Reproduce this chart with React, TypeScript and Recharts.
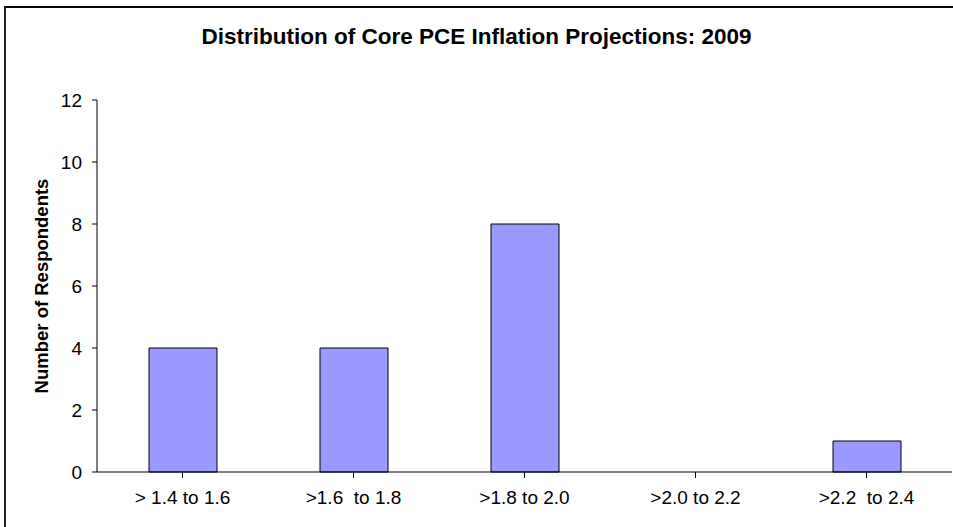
import { BarChart, Bar, XAxis, YAxis } from "recharts";

const categories = ["> 1.4 to 1.6", ">1.6  to 1.8", ">1.8 to 2.0", ">2.0 to 2.2", ">2.2  to 2.4"];
const respondents = [4, 4, 8, 0, 1];
const yTicks = [0, 2, 4, 6, 8, 10, 12];

const data = categories.map((range, i) => ({ range, count: respondents[i] }));

const FONT = "'Liberation Sans', Arial, sans-serif";

// keeps the double spaces in the category names
function RangeTick(props: any) {
  const { x, y, payload } = props;
  return (
    <text
      x={x}
      y={y}
      dy="0.71em"
      textAnchor="middle"
      fontSize={19}
      fill="#000"
      style={{ whiteSpace: "pre" }}
    >
      {payload.value}
    </text>
  );
}

export default function App() {
  return (
    <div
      style={{
        position: "absolute",
        left: 0,
        top: 0,
        width: 953,
        height: 527,
        overflow: "hidden",
        background: "#fff",
        fontFamily: FONT,
      }}
    >
      {/* outer chart frame, cropped on the right and bottom */}
      <div
        style={{
          position: "absolute",
          left: 4,
          top: 6,
          width: 1000,
          height: 600,
          borderTop: "2px solid #000",
          borderLeft: "2px solid #222",
        }}
      />
      <div
        style={{
          position: "absolute",
          left: 0,
          top: 26,
          width: 953,
          textAlign: "center",
          fontSize: 22.5,
          lineHeight: "22px",
          fontWeight: "bold",
          color: "#000",
        }}
      >
        Distribution of Core PCE Inflation Projections: 2009
      </div>
      <div style={{ position: "absolute", left: 0, top: 0 }}>
        <BarChart
          width={953}
          height={527}
          data={data}
          margin={{ top: 100, right: 1, bottom: 15, left: 37 }}
          barCategoryGap="30%"
          style={{ fontFamily: FONT }}
        >
          <XAxis
            xAxisId="top"
            orientation="top"
            dataKey="range"
            height={0}
            tick={false}
            tickLine={false}
            axisLine={{ stroke: "#808080" }}
          />
          <YAxis
            yAxisId="right"
            orientation="right"
            width={0}
            tick={false}
            tickLine={false}
            axisLine={{ stroke: "#808080" }}
          />
          <XAxis
            dataKey="range"
            height={40}
            axisLine={{ stroke: "#000" }}
            tickLine={{ stroke: "#000" }}
            tickSize={6}
            tickMargin={13}
            interval={0}
            tick={<RangeTick />}
          />
          <YAxis
            width={60}
            domain={[0, 12]}
            ticks={yTicks}
            axisLine={{ stroke: "#000" }}
            tickLine={{ stroke: "#000" }}
            tickSize={5}
            tickMargin={10}
            tick={{ fontSize: 19, fill: "#000" }}
            label={{
              value: "Number of Respondents",
              angle: -90,
              position: "insideLeft",
              offset: 4,
              textAnchor: "middle",
              style: { fontSize: 18.5, fontWeight: "bold", fill: "#000", textAnchor: "middle" },
            }}
          />
          <Bar
            dataKey="count"
            fill="#9999FF"
            stroke="#000"
            strokeWidth={1}
            barSize={68}
            isAnimationActive={false}
          />
        </BarChart>
      </div>
    </div>
  );
}
